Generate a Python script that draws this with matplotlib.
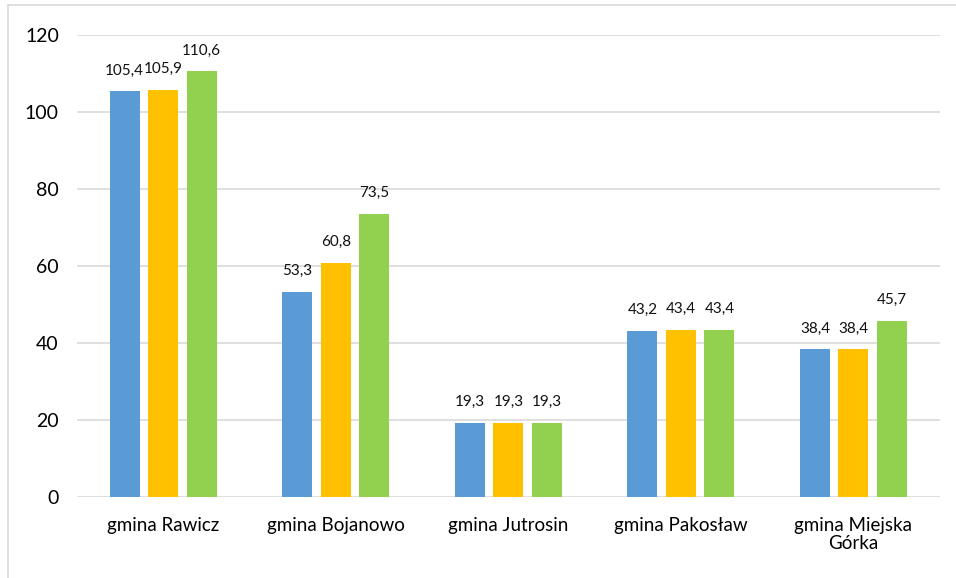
import matplotlib.pyplot as plt
import numpy as np
from matplotlib.patches import Rectangle

plt.rcParams['font.family'] = ['Lato', 'DejaVu Sans']

# values per commune, three series
gminy = ['gmina Rawicz', 'gmina Bojanowo', 'gmina Jutrosin', 'gmina Pakosław', 'gmina Miejska\nGórka']
seria_1 = [105.4, 53.3, 19.3, 43.2, 38.4]
seria_2 = [105.9, 60.8, 19.3, 43.4, 38.4]
seria_3 = [110.6, 73.5, 19.3, 43.4, 45.7]

colors = ['#5B9BD5', '#FFC000', '#92D050']

fig = plt.figure(figsize=(9.56, 5.78), dpi=100)
ax = fig.add_axes([0.0805, 0.140, 0.9025, 0.799])

# thin grey frame around the whole chart
fig.patches.append(Rectangle((8 / 956, -0.01), 1.0, 1 - 5 / 578 + 0.01,
                             transform=fig.transFigure, fill=False,
                             edgecolor='#D9D9D9', linewidth=1.2))

x = np.arange(len(gminy))
width = 0.174
step = 0.223
for i, (vals, c) in enumerate(zip([seria_1, seria_2, seria_3], colors)):
    bars = ax.bar(x + (i - 1) * step, vals, width, color=c, zorder=3)
    for b, v in zip(bars, vals):
        ax.text(b.get_x() + b.get_width() / 2, v + 3.6, f'{v:.1f}'.replace('.', ','),
                ha='center', va='bottom', fontsize=11, color='#111111')

ax.set_xlim(-0.5, len(gminy) - 0.5)
ax.set_ylim(0, 120)
ax.set_yticks(range(0, 121, 20))
ax.yaxis.grid(True, color='#D9D9D9', linewidth=1.2, zorder=0)
for s in ax.spines.values():
    s.set_visible(False)
ax.tick_params(axis='both', length=0)
ax.tick_params(axis='y', labelsize=14, pad=13, colors='#000000')
ax.set_xticks(x)
ax.set_xticklabels(gminy, fontsize=13.5, color='#000000', linespacing=1.1)
ax.tick_params(axis='x', pad=14)

fig.savefig('out.png', dpi=100)
